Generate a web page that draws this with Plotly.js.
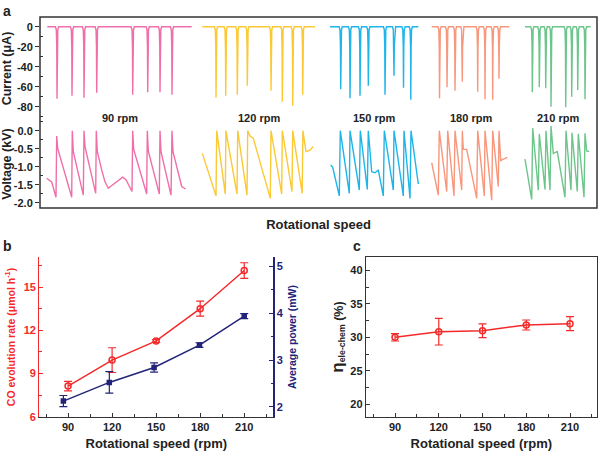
<!DOCTYPE html>
<html><head><meta charset="utf-8">
<script src="https://cdn.plot.ly/plotly-3.0.1.min.js"></script>
<style>html,body{margin:0;padding:0;background:#fff}#plot{width:600px;height:451px}</style>
</head><body><div id="plot"></div>
<script>
// ---------- Panel a data (time in arbitrary units) ----------
const rpmLabels = ["90 rpm", "120 rpm", "150 rpm", "180 rpm", "210 rpm"];
const segColors = ["#f06fa9", "#fbc934", "#1fb5ea", "#f8977c", "#6cc58b"];
const segStart = [7.3, 162.3, 290, 391.7, 485];
const segEnd = [151.7, 275, 378.3, 469.3, 550.7];
const spikeT = [
  [17, 32, 44, 56.7, 92.7, 107.7, 120, 132],
  [176, 185.7, 197.3, 207.3, 231, 242.3, 252.7, 262.7],
  [300.7, 310, 320, 328.3, 345, 354, 363.5, 370.8],
  [399.5, 407, 415, 422.3, 437.7, 445, 452.7, 459],
  [492.3, 499.3, 505.7, 511, 525.7, 531.7, 537.7, 545]
];
const spikeDepth = [
  [-72, -69, -71, -66, -68, -65.6, -65.6, -68],
  [-71, -69, -68, -59, -64, -75, -79, -68],
  [-62.5, -71.6, -69, -59, -68, -49, -61, -73],
  [-71.6, -60.6, -64, -55, -65, -72.6, -73, -52],
  [-65.6, -60.6, -61.6, -80, -80.6, -70, -63.3, -72.6]
];
const voltT = [
  [6.7, 11.7, 16, 16.7, 17.7, 31.7, 32.3, 33.3, 43.3, 44, 45, 55.7, 56.3, 57.3, 61.7, 65, 68.3, 75, 82.7, 86, 89, 92, 92.7, 93.7, 106.7, 107.3, 108.3, 119.3, 120, 121, 131, 132, 133, 136.7, 141.7, 145.7],
  [162.3, 176, 176.7, 185.3, 185.9, 197, 197.7, 207, 207.7, 210, 213.3, 230.3, 231, 241.7, 242.3, 252, 252.7, 262.2, 262.9, 266, 270, 273.3],
  [290.7, 292.7, 299.3, 300.3, 309.3, 310, 319.3, 320.3, 327.3, 328.3, 331.7, 335, 338.3, 343.3, 344.3, 353.3, 354, 363.3, 364, 370, 371, 378.3],
  [391.7, 398.3, 399.3, 406.7, 407.7, 414, 415, 421.7, 422.3, 423.3, 426.7, 436.7, 437.7, 444.3, 445, 451.7, 452.7, 458.3, 459, 460.7, 463.3, 467.3],
  [485, 491.7, 492.7, 498.3, 499.3, 505, 506, 510, 511, 513.3, 515, 517.3, 525, 526, 531, 532, 537.3, 538.3, 544, 545, 546.7, 549.3]
];
const voltV = [
  [-1.32, -1.42, -1.85, -0.15, -0.49, -1.85, 0.0, -0.58, -1.79, 0.0, -0.44, -1.74, 0.0, -0.58, -1.09, -1.42, -1.6, -1.46, -1.29, -1.36, -1.55, -1.69, 0.0, -0.52, -1.76, 0.0, -0.56, -1.76, 0.0, -0.58, -1.79, 0.0, -0.58, -1.0, -1.55, -1.62],
  [-0.63, -1.81, 0, -1.76, 0, -1.76, 0, -1.79, 0, -0.15, -0.21, -1.88, 0, -1.76, 0, -1.69, 0, -1.74, 0, -0.58, -0.54, -0.44],
  [-0.95, -1.02, -1.81, 0, -1.74, 0, -1.65, 0, -1.63, 0, -1.14, -1.17, -1.09, -1.81, 0, -1.65, 0, -1.81, 0, -1.88, 0, -1.48],
  [-0.89, -1.79, 0, -1.69, 0, -1.81, 0, -1.65, 0, -0.52, -0.52, -1.88, 0, -1.81, 0, -1.93, 0, -1.55, 0, -0.83, -0.79, -0.74],
  [-0.79, -1.91, 0.07, -1.65, -0.09, -1.63, 0, -1.65, 0.13, -0.63, -0.61, -0.58, -1.85, 0, -1.65, -0.06, -1.69, -0.09, -1.85, -0.07, -0.56, -0.58]
];
const currentTickVals = [0, -20, -40, -60, -80];
const currentTickText = ["0", "-20", "-40", "-60", "-80"];
const voltTickVals = [0, -0.5, -1, -1.5, -2];
const voltTickText = ["0.0", "-0.5", "-1.0", "-1.5", "-2.0"];

// ---------- Panel b / c data ----------
const speeds = [90, 120, 150, 180, 210];
const powerSpeeds = [86.8, 118.1, 148.6, 179.5, 210];
const coRate = [8.13, 9.93, 11.26, 13.5, 16.15];
const coRateErr = [0.33, 0.86, 0.1, 0.52, 0.54];
const avgPower = [2.12, 2.52, 2.84, 3.32, 3.94];
const avgPowerErr = [0.12, 0.23, 0.1, 0.05, 0.055];
const effic = [30.0, 30.85, 31.0, 31.85, 32.05];
const efficErr = [0.55, 2.0, 1.03, 0.75, 1.05];

// ---------- build ----------
const FONT = "Liberation Sans, Arial, sans-serif";
const traces = [];
for (let s = 0; s < 5; s++) {
  const xs = [segStart[s]], ys = [0];
  for (let k = 0; k < spikeT[s].length; k++) {
    const t = spikeT[s][k], d = spikeDepth[s][k];
    xs.push(t - 1.6, t - 0.7, t - 0.25, t, t + 0.3, t + 0.8, t + 1.6);
    ys.push(0, -3, -20, d, -20, -3, 0);
  }
  xs.push(segEnd[s]); ys.push(0);
  traces.push({x: xs, y: ys, xaxis: 'x', yaxis: 'y', mode: 'lines',
    line: {color: segColors[s], width: 1.4}, hoverinfo: 'skip', showlegend: false});
  traces.push({x: voltT[s], y: voltV[s], xaxis: 'x', yaxis: 'y2', mode: 'lines',
    line: {color: segColors[s], width: 1.4}, hoverinfo: 'skip', showlegend: false});
}
traces.push({x: speeds, y: coRate, xaxis: 'x2', yaxis: 'y3', mode: 'lines+markers',
  line: {color: '#f42a2a', width: 1.5},
  marker: {symbol: 'circle-open', size: 6, color: '#f42a2a', line: {width: 1.5}},
  error_y: {type: 'data', array: coRateErr, color: '#f42a2a', thickness: 1.2, width: 4},
  showlegend: false});
traces.push({x: powerSpeeds, y: avgPower, xaxis: 'x2', yaxis: 'y4', mode: 'lines+markers',
  line: {color: '#23237a', width: 1.5},
  marker: {symbol: 'square', size: 5.5, color: '#23237a'},
  error_y: {type: 'data', array: avgPowerErr, color: '#23237a', thickness: 1.2, width: 4},
  showlegend: false});
traces.push({x: speeds, y: effic, xaxis: 'x3', yaxis: 'y5', mode: 'lines+markers',
  line: {color: '#f42a2a', width: 1.5},
  marker: {symbol: 'circle-open', size: 6, color: '#f42a2a', line: {width: 1.5}},
  error_y: {type: 'data', array: efficErr, color: '#f42a2a', thickness: 1.2, width: 4},
  showlegend: false});

const H = 451, W = 600;
const px = v => v / W, py = v => 1 - v / H;
const tickF = (c) => ({family: FONT, size: 11, color: c || '#222', weight: 'bold'});
const titleF = (c, s) => ({family: FONT, size: s || 13, color: c || '#222', weight: 'bold'});

const annotations = rpmLabels.map((t, i) => ({
  text: t, x: (segStart[i] + segEnd[i]) / 2, y: py(118), xref: 'x', yref: 'paper',
  showarrow: false, font: titleF('#222', 11), xanchor: 'center', yanchor: 'middle'
}));
annotations.push(
  {text: 'a', x: px(7), y: py(11), xref: 'paper', yref: 'paper', showarrow: false, font: titleF('#222', 14), xanchor: 'center', yanchor: 'middle'},
  {text: 'b', x: px(7), y: py(246), xref: 'paper', yref: 'paper', showarrow: false, font: titleF('#222', 14), xanchor: 'center', yanchor: 'middle'},
  {text: 'c', x: px(357), y: py(246), xref: 'paper', yref: 'paper', showarrow: false, font: titleF('#222', 14), xanchor: 'center', yanchor: 'middle'}
);

const layout = {
  width: W, height: H, margin: {l: 0, r: 0, t: 0, b: 0},
  paper_bgcolor: '#fff', plot_bgcolor: 'rgba(0,0,0,0)', showlegend: false,
  font: {family: FONT, color: '#222'},
  xaxis: {domain: [px(40), px(597)], range: [0, 557], anchor: 'y2', showticklabels: false,
    ticks: '', showline: false, showgrid: false, zeroline: false,
    title: {text: 'Rotational speed', font: titleF('#222', 13), standoff: 11}},
  yaxis: {domain: [py(120), py(17)], range: [-93.3, 9.7], anchor: 'x',
    tickmode: 'array', tickvals: currentTickVals, ticktext: currentTickText,
    ticks: 'outside', ticklen: 4, tickwidth: 1, tickcolor: '#333',
    minor: {tickvals: [-10, -30, -50, -70, -90], ticks: 'inside', ticklen: 3, tickcolor: '#333'},
    showline: false, showgrid: false, zeroline: false, tickfont: tickF(),
    title: {text: 'Current (μA)', font: titleF('#222', 12.5), standoff: 6}},
  yaxis2: {domain: [py(208), py(120)], range: [-2.147, 0.297], anchor: 'x',
    tickmode: 'array', tickvals: voltTickVals, ticktext: voltTickText,
    ticks: 'outside', ticklen: 4, tickwidth: 1, tickcolor: '#333',
    minor: {tickvals: [0.25, -0.25, -0.75, -1.25, -1.75], ticks: 'inside', ticklen: 3, tickcolor: '#333'},
    showline: false, showgrid: false, zeroline: false, tickfont: tickF(),
    title: {text: 'Voltage (kV)', font: titleF('#222', 12.5), standoff: 6}},
  xaxis2: {domain: [px(39.3), px(273.3)], range: [70.4, 229.8], anchor: 'y3',
    tickmode: 'array', tickvals: speeds, ticktext: speeds.map(String),
    ticks: 'inside', ticklen: 4, tickcolor: '#333', showline: true, linecolor: '#333', linewidth: 1.2,
    minor: {tickvals: [75, 105, 135, 165, 195, 225], ticks: 'inside', ticklen: 2.5, tickcolor: '#333'},
    showgrid: false, zeroline: false, tickfont: tickF(),
    title: {text: 'Rotational speed (rpm)', font: titleF('#222', 13), standoff: 7}},
  yaxis3: {domain: [py(416.7), py(257.3)], range: [6, 17.07], anchor: 'x2',
    tickmode: 'array', tickvals: [6, 9, 12, 15], ticktext: ['6', '9', '12', '15'],
    ticks: 'inside', ticklen: 4, tickcolor: '#f42a2a', showline: true, linecolor: '#f42a2a', linewidth: 1.2,
    minor: {tickvals: [7.5, 10.5, 13.5, 16.5], ticks: 'inside', ticklen: 2.5, tickcolor: '#f42a2a'},
    showgrid: false, zeroline: false, tickfont: tickF('#f42a2a'),
    title: {text: 'CO evolution rate (μmol h<sup>-1</sup>)', font: titleF('#f42a2a', 10.5), standoff: 6}},
  yaxis4: {domain: [py(416.7), py(257.3)], range: [1.786, 5.2], anchor: 'x2', overlaying: 'y3', side: 'right',
    tickmode: 'array', tickvals: [2, 3, 4, 5], ticktext: ['2', '3', '4', '5'],
    ticks: 'inside', ticklen: 4, tickcolor: '#23237a', showline: true, linecolor: '#23237a', linewidth: 1.2,
    minor: {tickvals: [2.5, 3.5, 4.5], ticks: 'inside', ticklen: 2.5, tickcolor: '#23237a'},
    showgrid: false, zeroline: false, tickfont: tickF('#23237a'),
    title: {text: 'Average power (mW)', font: titleF('#23237a', 10.5), standoff: 6}},
  xaxis3: {domain: [px(366), px(596.7)], range: [70.1, 228.3], anchor: 'y5',
    tickmode: 'array', tickvals: speeds, ticktext: speeds.map(String),
    ticks: 'inside', ticklen: 4, tickcolor: '#333', showline: true, mirror: true, linecolor: '#333', linewidth: 1.2,
    minor: {tickvals: [75, 105, 135, 165, 195, 225], ticks: 'inside', ticklen: 2.5, tickcolor: '#333'},
    showgrid: false, zeroline: false, tickfont: tickF(),
    title: {text: 'Rotational speed (rpm)', font: titleF('#222', 13), standoff: 7}},
  yaxis5: {domain: [py(416.7), py(257.3)], range: [18.1, 42], anchor: 'x3',
    tickmode: 'array', tickvals: [20, 25, 30, 35, 40], ticktext: ['20', '25', '30', '35', '40'],
    ticks: 'inside', ticklen: 4, tickcolor: '#333', showline: true, mirror: true, linecolor: '#333', linewidth: 1.2,
    minor: {tickvals: [22.5, 27.5, 32.5, 37.5], ticks: 'inside', ticklen: 2.5, tickcolor: '#333'},
    showgrid: false, zeroline: false, tickfont: tickF(),
    title: {text: "<span style='font-size:17px'>η</span><sub>ele-chem</sub> (%)", font: titleF('#222', 12.5), standoff: 4}},
  shapes: [
    {type: 'rect', xref: 'paper', yref: 'paper', x0: px(40), x1: px(597), y0: py(208), y1: py(17),
     line: {color: '#333', width: 1.5}, fillcolor: 'rgba(0,0,0,0)'}
  ],
  annotations: annotations
};
Plotly.newPlot('plot', traces, layout, {displayModeBar: false, staticPlot: true});
</script></body></html>
